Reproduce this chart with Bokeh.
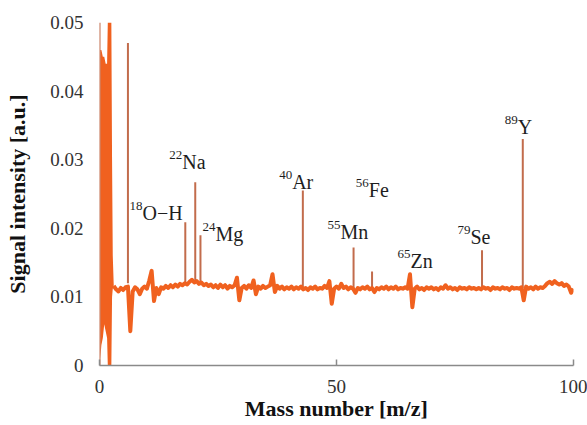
from bokeh.plotting import figure
from bokeh.models import Range1d, FixedTicker, CustomJSTickFormatter, ColumnDataSource
from bokeh.core.properties import value
from bokeh.embed import file_html
from bokeh.resources import INLINE

# ---------------- data ----------------
# dense low-mass region (envelope of the fast oscillation)
dense_x = [0.15, 0.4, 0.7, 1.0, 1.3, 1.6, 1.75, 2.5, 2.65, 2.8, 3.0]
dense_lo = [0.001, 0.003, 0.004, 0.006, 0.005, 0.004, 0.0, 0.0, 0.010, 0.0112, 0.0115]
dense_hi = [0.046, 0.046, 0.045, 0.045, 0.044, 0.044, 0.050, 0.050, 0.030, 0.016, 0.0118]

# baseline signal
base_mass = [
    3.0, 3.5, 4.0, 4.5, 5.0, 5.5, 6.0, 6.5, 7.0, 7.5, 8.0, 8.5, 9.0, 9.5,
    10.0, 10.5, 11.0, 11.5, 12.0, 12.5, 13.0, 13.5, 14.0, 14.5, 15.0, 15.5, 16.0, 16.5, 17.0, 17.5, 18.0, 18.5, 19.0, 19.5,
    20.0, 20.5, 21.0, 21.5, 22.0, 22.5, 23.0, 23.5, 24.0, 24.5, 25.0, 25.5, 26.0, 26.5, 27.0, 27.5, 28.0, 28.5, 29.0, 29.5,
    30.0, 30.5, 31.0, 31.5, 32.0, 32.5, 33.0, 33.5, 34.0, 34.5, 35.0, 35.5, 36.0, 36.5, 37.0, 37.5, 38.0, 38.5, 39.0, 39.5,
    40.0, 40.5, 41.0, 41.5, 42.0, 42.5, 43.0, 43.5, 44.0, 44.5, 45.0, 45.5, 46.0, 46.5, 47.0, 47.5, 48.0, 48.5, 49.0, 49.5,
    50.0, 50.5, 51.0, 51.5, 52.0, 52.5, 53.0, 53.5, 54.0, 54.5, 55.0, 55.5, 56.0, 56.5, 57.0, 57.5, 58.0, 58.5, 59.0, 59.5,
    60.0, 60.5, 61.0, 61.5, 62.0, 62.5, 63.0, 63.5, 64.0, 64.5, 65.0, 65.5, 66.0, 66.5, 67.0, 67.5, 68.0, 68.5, 69.0, 69.5,
    70.0, 70.5, 71.0, 71.5, 72.0, 72.5, 73.0, 73.5, 74.0, 74.5, 75.0, 75.5, 76.0, 76.5, 77.0, 77.5, 78.0, 78.5, 79.0, 79.5,
    80.0, 80.5, 81.0, 81.5, 82.0, 82.5, 83.0, 83.5, 84.0, 84.5, 85.0, 85.5, 86.0, 86.5, 87.0, 87.5, 88.0, 88.5, 89.0, 89.5,
    90.0, 90.5, 91.0, 91.5, 92.0, 92.5, 93.0, 93.5, 94.0, 94.5, 95.0, 95.5, 96.0, 96.5, 97.0, 97.5, 98.0, 98.5, 99.0, 99.5, 100.0,
]
base_signal = [
    0.0116, 0.0111, 0.0108, 0.0113, 0.0110, 0.0114, 0.0115, 0.0050, 0.0108, 0.0114, 0.0111, 0.0104, 0.0112, 0.0115,
    0.0112, 0.0124, 0.0138, 0.0094, 0.0113, 0.0104, 0.0114, 0.0112, 0.0116, 0.0113, 0.0117, 0.0114, 0.0118, 0.0115, 0.0119, 0.0117, 0.0120, 0.0118, 0.0122, 0.0125,
    0.0121, 0.0123, 0.0119, 0.0121, 0.0117, 0.0119, 0.0116, 0.0118, 0.0114, 0.0117, 0.0113, 0.0118, 0.0114, 0.0117, 0.0112, 0.0116, 0.0114, 0.0117, 0.0128, 0.0095,
    0.0113, 0.0116, 0.0112, 0.0117, 0.0113, 0.0124, 0.0104, 0.0115, 0.0112, 0.0116, 0.0113, 0.0115, 0.0117, 0.0133, 0.0107, 0.0116, 0.0112, 0.0115, 0.0111, 0.0114,
    0.0112, 0.0115, 0.0111, 0.0114, 0.0112, 0.0115, 0.0111, 0.0113, 0.0110, 0.0114, 0.0112, 0.0115, 0.0111, 0.0113, 0.0112, 0.0116, 0.0113, 0.0123, 0.0090, 0.0112,
    0.0115, 0.0112, 0.0119, 0.0113, 0.0115, 0.0111, 0.0114, 0.0112, 0.0106, 0.0113, 0.0111, 0.0114, 0.0112, 0.0115, 0.0111, 0.0113, 0.0107, 0.0113, 0.0111, 0.0114,
    0.0112, 0.0115, 0.0111, 0.0114, 0.0112, 0.0115, 0.0111, 0.0113, 0.0112, 0.0114, 0.0112, 0.0133, 0.0085, 0.0112, 0.0115, 0.0111, 0.0113, 0.0110, 0.0114, 0.0112,
    0.0114, 0.0111, 0.0113, 0.0110, 0.0114, 0.0112, 0.0117, 0.0112, 0.0114, 0.0111, 0.0113, 0.0110, 0.0114, 0.0112, 0.0113, 0.0111, 0.0114, 0.0112, 0.0113, 0.0111,
    0.0113, 0.0111, 0.0114, 0.0112, 0.0113, 0.0110, 0.0114, 0.0112, 0.0113, 0.0111, 0.0114, 0.0112, 0.0113, 0.0110, 0.0114, 0.0112, 0.0113, 0.0112, 0.0114, 0.0095,
    0.0115, 0.0112, 0.0114, 0.0111, 0.0115, 0.0112, 0.0114, 0.0113, 0.0116, 0.0120, 0.0122, 0.0119, 0.0123, 0.0120, 0.0118, 0.0120, 0.0116, 0.0118, 0.0115, 0.0106, 0.0112,
]

# sharp peaks
peak_mass = [0.0, 6.0, 18.1, 20.2, 21.3, 42.9, 53.6, 57.5, 80.7, 89.3]
peak_base = [0.0, 0.0120, 0.0118, 0.0121, 0.0119, 0.0112, 0.0112, 0.0113, 0.0111, 0.0113]
peak_top = [0.050, 0.047, 0.0209, 0.0267, 0.0190, 0.0255, 0.0172, 0.0137, 0.0168, 0.0330]

# peak annotations (isotope superscript + element)
ann_sup = ["18", "22", "24", "40", "55", "56", "65", "79", "89"]
ann_main = ["O\u2212H", "Na", "Mg", "Ar", "Mn", "Fe", "Zn", "Se", "Y"]

y_ticks = [0, 0.01, 0.02, 0.03, 0.04, 0.05]
x_ticks = [0, 50, 100]

# label anchor positions (layout only)
ann_x = [9.07, 17.45, 24.47, 40.65, 50.84, 56.81, 65.61, 78.27, 88.25]
ann_y = [0.0222, 0.0296, 0.0192, 0.0267, 0.0194, 0.0256, 0.0153, 0.0187, 0.0348]

ORANGE = "#f0611f"
BROWN = "#c26c4c"
FONT = "Liberation Serif"

p = figure(width=587, height=425, output_backend="svg", toolbar_location=None,
           x_range=Range1d(0, 100), y_range=Range1d(0, 0.05),
           min_border_left=99, min_border_right=14, min_border_top=22, min_border_bottom=60)
p.outline_line_color = None
p.xgrid.grid_line_color = None
p.ygrid.grid_line_color = None
p.background_fill_color = "white"

# data
p.varea(x=dense_x, y1=dense_lo, y2=dense_hi, fill_color=ORANGE)
p.segment(x0=peak_mass, y0=peak_base, x1=peak_mass, y1=peak_top, line_color=BROWN, line_width=2)
p.line(base_mass, base_signal, line_color=ORANGE, line_width=4, line_join="round")

src = ColumnDataSource(dict(x=ann_x, y=ann_y, sup=ann_sup, main=ann_main))
p.text(x="x", y="y", text="main", source=src, text_font=value(FONT), text_font_size="20px",
       text_align="left", text_baseline="alphabetic", text_color="#1e1e1e")
p.text(x="x", y="y", text="sup", source=src, text_font=value(FONT), text_font_size="13px",
       text_align="right", text_baseline="alphabetic", text_color="#1e1e1e", y_offset=-7)

# axes
xa = p.xaxis[0]
xa.ticker = FixedTicker(ticks=x_ticks)
xa.minor_tick_line_color = None
xa.major_tick_in = 6
xa.major_tick_out = 0
xa.major_tick_line_color = "#8a8a8a"
xa.major_tick_line_width = 1.5
xa.axis_line_color = "#8a8a8a"
xa.axis_line_width = 1.5
xa.major_label_text_font = FONT
xa.major_label_text_font_size = "19px"
xa.major_label_text_color = "#333333"
xa.major_label_standoff = 14
xa.axis_label = "Mass number [m/z]"
xa.axis_label_text_font = FONT
xa.axis_label_text_font_style = "bold"
xa.axis_label_text_font_size = "22px"
xa.axis_label_text_color = "#111111"
xa.axis_label_standoff = 0

ya = p.yaxis[0]
ya.ticker = FixedTicker(ticks=y_ticks)
ya.formatter = CustomJSTickFormatter(code="return tick === 0 ? '0' : tick.toFixed(2);")
ya.minor_tick_line_color = None
ya.major_tick_line_color = None
ya.major_tick_in = 0
ya.major_tick_out = 0
ya.axis_line_color = None
ya.major_label_text_font = FONT
ya.major_label_text_font_size = "19px"
ya.major_label_text_color = "#333333"
ya.major_label_standoff = 16
ya.axis_label = "Signal intensity [a.u.]"
ya.axis_label_text_font = FONT
ya.axis_label_text_font_style = "bold"
ya.axis_label_text_font_size = "22px"
ya.axis_label_text_color = "#111111"
ya.axis_label_standoff = 17

open("out.html", "w").write(file_html(p, INLINE))
